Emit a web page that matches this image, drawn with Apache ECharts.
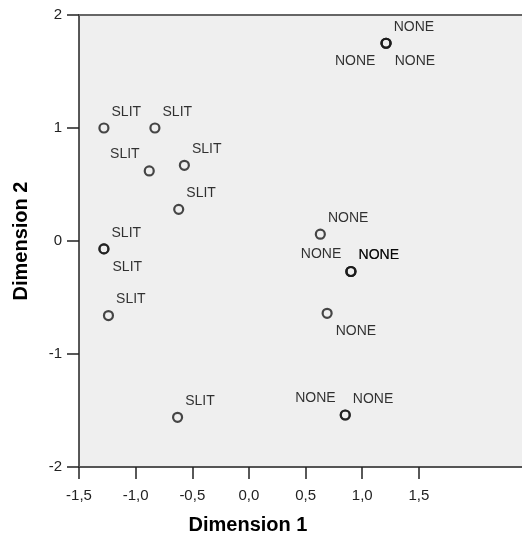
<!DOCTYPE html>
<html>
<head>
<meta charset="utf-8">
<script src="https://cdn.jsdelivr.net/npm/echarts@6/dist/echarts.min.js"></script>
<style>
html,body{margin:0;padding:0;background:#fff;}
#chart{width:522px;height:537px;}
</style>
</head>
<body>
<div id="chart"></div>
<script>
// ---- data ----
const xTicks = [-1.5, -1.0, -0.5, 0.0, 0.5, 1.0, 1.5];
const yTicks = [-2, -1, 0, 1, 2];
const xAxisTitle = 'Dimension 1';
const yAxisTitle = 'Dimension 2';
// object points (coincident points are repeated)
const xs = [-1.28, -0.83, -0.88, -0.57, -0.62, -1.28, -1.28, -1.24, -0.63,
            1.21, 1.21, 1.21, 0.63, 0.90, 0.90, 0.90, 0.69, 0.85, 0.85];
const ys = [1.00, 1.00, 0.62, 0.67, 0.28, -0.07, -0.07, -0.66, -1.56,
            1.75, 1.75, 1.75, 0.06, -0.27, -0.27, -0.27, -0.64, -1.54, -1.54];
const pointLabels = ['SLIT','SLIT','SLIT','SLIT','SLIT','SLIT','SLIT','SLIT','SLIT',
                     'NONE','NONE','NONE','NONE','NONE','NONE','NONE','NONE','NONE','NONE'];
// label side: ur = upper right, ul = upper left, dr = lower right, dl = lower left
const labelSide = ['ur','ur','ul','ur','ur','ur','dr','ur','ur',
                   'ur','dl','dr','ur','ul','ur','ur','dr','ul','ur'];

// ---- styles ----
const FONT = '"Liberation Sans", Arial, sans-serif';
const sideStyle = {
  ur: {position: 'right', distance: 2, offset: [0, -16]},
  ul: {position: 'left', distance: 4, offset: [0, -17]},
  dr: {position: 'right', distance: 3, offset: [0, 18]},
  dl: {position: 'left', distance: 5, offset: [0, 18]}
};
const fmtX = v => (Math.round(v * 10) / 10).toFixed(1).replace('.', ',');

const data = xs.map((x, i) => ({
  value: [x, ys[i]],
  name: pointLabels[i],
  label: Object.assign({show: true, formatter: pointLabels[i]}, sideStyle[labelSide[i]])
}));

const chart = echarts.init(document.getElementById('chart'), null, {renderer: 'canvas'});
chart.setOption({
  animation: false,
  backgroundColor: '#ffffff',
  title: [{
    text: xAxisTitle,
    left: 248, top: 515, padding: 0, textAlign: 'center',
    textStyle: {fontFamily: FONT, fontWeight: 'bold', fontSize: 20, color: '#000'}
  }],
  grid: {
    left: 79, right: 0, top: 15, bottom: 70,
    show: true, backgroundColor: '#efefef', borderWidth: 0
  },
  xAxis: [{
    type: 'value', min: -1.5, max: 2.41, position: 'bottom',
    axisLine: {show: true, onZero: false, lineStyle: {color: '#555', width: 2}},
    axisTick: {show: true, length: 12, inside: false, customValues: xTicks,
               lineStyle: {color: '#222', width: 1.5}},
    axisLabel: {show: true, customValues: xTicks, formatter: fmtX, margin: 21,
                fontFamily: FONT, fontSize: 15, color: '#222'},
    splitLine: {show: false}
  }, {
    type: 'value', min: -1.5, max: 2.41, position: 'top',
    axisLine: {show: true, onZero: false, lineStyle: {color: '#666', width: 2}},
    axisTick: {show: false}, axisLabel: {show: false}, splitLine: {show: false}
  }],
  yAxis: {
    type: 'value', min: -2, max: 2, interval: 1,
    name: yAxisTitle, nameLocation: 'middle', nameGap: 48, nameRotate: 90,
    nameTextStyle: {fontFamily: FONT, fontWeight: 'bold', fontSize: 20, color: '#000'},
    axisLine: {show: true, onZero: false, lineStyle: {color: '#222', width: 1.5}},
    axisTick: {show: true, length: 12, inside: false, lineStyle: {color: '#222', width: 1.5}},
    axisLabel: {show: true, margin: 17, fontFamily: FONT, fontSize: 15, color: '#222',
                formatter: v => String(v)},
    splitLine: {show: false}
  },
  series: [{
    type: 'scatter',
    xAxisIndex: 0,
    symbol: 'circle',
    symbolSize: 9,
    itemStyle: {color: 'rgba(0,0,0,0)', borderColor: '#1a1a1a', borderWidth: 2.2},
    label: {fontFamily: FONT, fontSize: 14, color: '#000'},
    emphasis: {disabled: true},
    data: data
  }]
});
</script>
</body>
</html>
